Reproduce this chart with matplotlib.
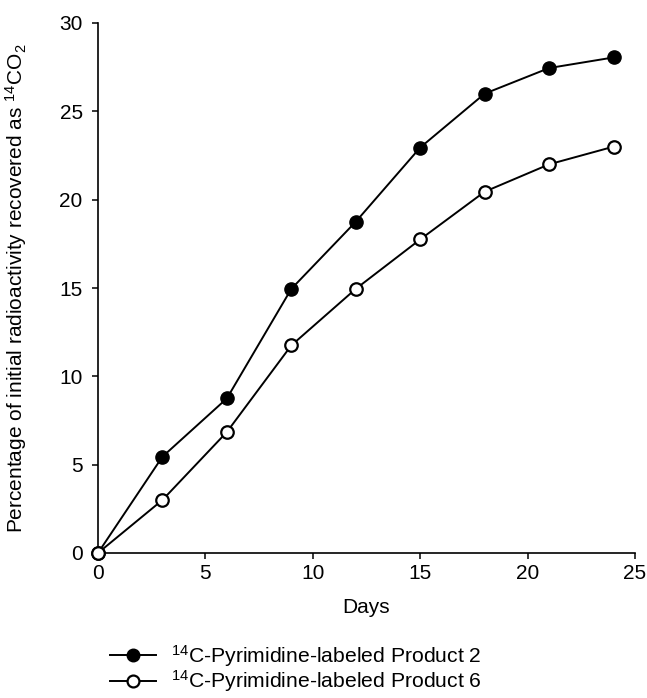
import matplotlib
matplotlib.use("Agg")
import matplotlib.pyplot as plt

plt.rcParams['font.family'] = ['Liberation Sans', 'DejaVu Sans']
plt.rcParams['mathtext.fontset'] = 'custom'
plt.rcParams['mathtext.rm'] = 'Liberation Sans'
plt.rcParams['mathtext.it'] = 'Liberation Sans:italic'
plt.rcParams['mathtext.bf'] = 'Liberation Sans:bold'

# data
days = [0, 3, 6, 9, 12, 15, 18, 21, 24]
product2 = [0, 5.45, 8.75, 14.95, 18.75, 22.95, 26.0, 27.45, 28.05]
product6 = [0, 3.0, 6.85, 11.75, 14.95, 17.75, 20.45, 22.0, 23.0]

x_ticks = [0, 5, 10, 15, 20, 25]
y_ticks = [0, 5, 10, 15, 20, 25, 30]

label2 = r'$^{14}$C-Pyrimidine-labeled Product 2'
label6 = r'$^{14}$C-Pyrimidine-labeled Product 6'

fig = plt.figure(figsize=(6.47, 6.98), dpi=100)
ax = fig.add_axes([98 / 647, 1 - 553 / 698, 537 / 647, 530 / 698])

ax.plot(days, product2, '-o', color='black', lw=1.4, ms=9.5,
        mfc='black', mec='black', label=label2, clip_on=False, zorder=3)
ax.plot(days, product6, '-o', color='black', lw=1.4, ms=9,
        mfc='white', mec='black', mew=1.6, label=label6, clip_on=False, zorder=4)

ax.set_xlim(0, 25)
ax.set_ylim(0, 30)
ax.set_xticks(x_ticks)
ax.set_yticks(y_ticks)
ax.spines['top'].set_visible(False)
ax.spines['right'].set_visible(False)
ax.spines['left'].set_linewidth(1.2)
ax.spines['bottom'].set_linewidth(1.2)
ax.tick_params(axis='both', direction='out', length=4, width=1.1, labelsize=15)
ax.tick_params(axis='y', pad=7)
ax.tick_params(axis='x', pad=4)

ax.set_xlabel('Days', fontsize=15)
ax.set_ylabel(r'Percentage of initial radioactivity recovered as $^{14}$CO$_2$', fontsize=15)
ax.xaxis.set_label_coords(0.5, -0.085)
ax.yaxis.set_label_coords(-0.128, 0.5)

fig.legend(loc='upper left', bbox_to_anchor=(110 / 647, 1 - 643 / 698),
           frameon=False, fontsize=15.2, handlelength=2.2, handletextpad=0.7,
           labelspacing=-0.02, borderpad=0, borderaxespad=0, markerscale=0.95)

fig.savefig('out.png', dpi=100)
